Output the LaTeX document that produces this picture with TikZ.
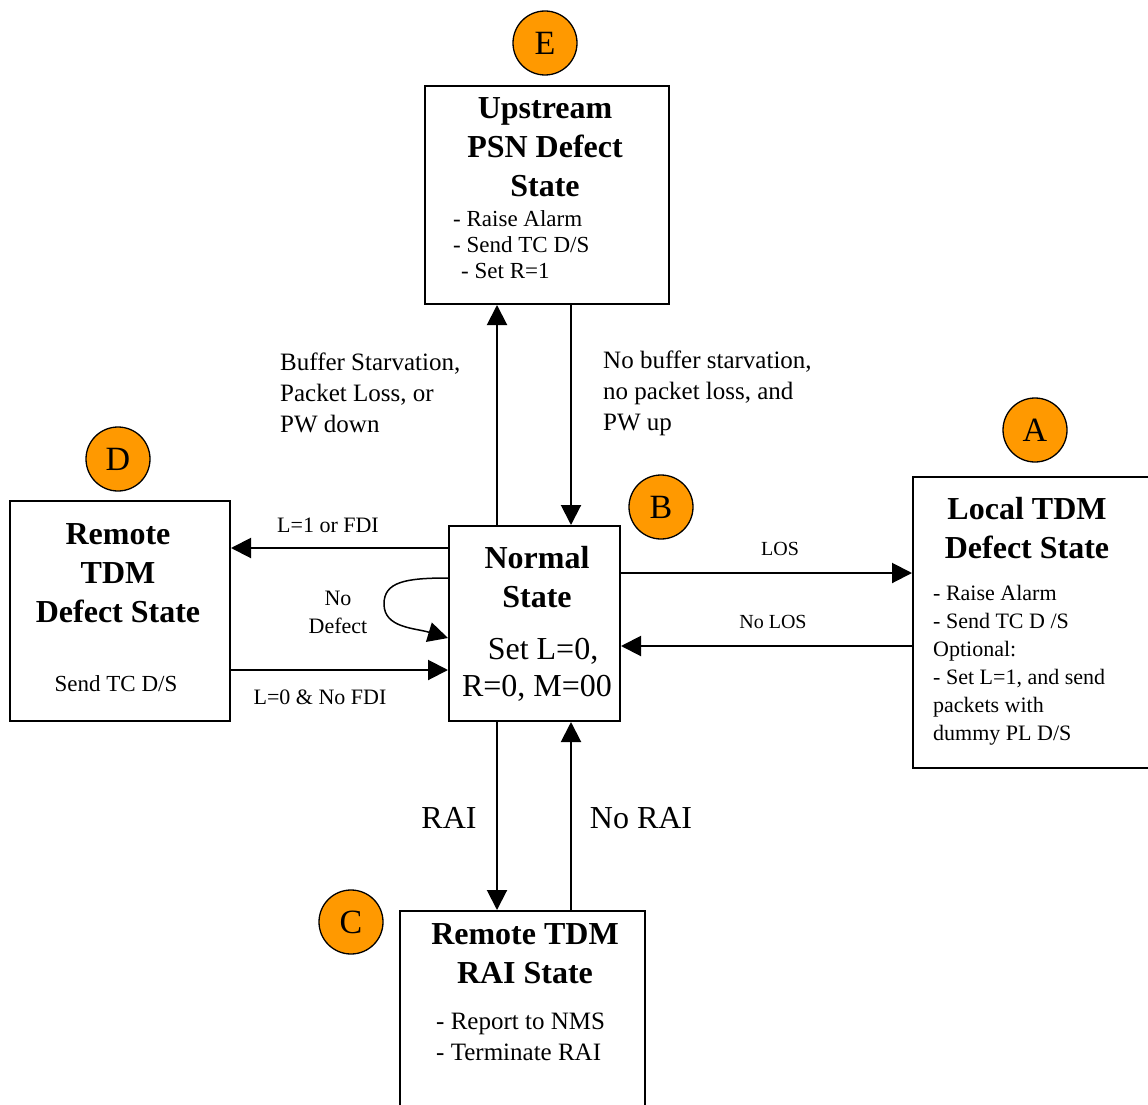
\documentclass[tikz,border=0pt]{standalone}
\usepackage{fontspec}
\setmainfont{Liberation Serif}
\usetikzlibrary{arrows.meta,positioning}
\definecolor{badgeorange}{RGB}{255,153,0}
\newcommand{\titlefont}{\fontsize{32}{39}\selectfont\bfseries}
\newcommand{\listfont}{\fontsize{23}{26}\selectfont}
\newcommand{\labfont}{\fontsize{22}{28}\selectfont}

\begin{document}
\begin{tikzpicture}[x=1pt,y=-1pt]
\tikzstyle{statebox}=[draw, line width=2pt, inner sep=0pt]
\tikzstyle{badge}=[circle, draw, line width=1.3pt, fill=badgeorange, minimum size=64pt, inner sep=0pt, font=\fontsize{34}{34}\selectfont]
\tikzstyle{trans}=[line width=2pt, -{Triangle[length=20pt,width=20pt]}]
\tikzstyle{every node}+=[inner sep=0pt]
\useasboundingbox (0,0) rectangle (1148,1105);
\clip (0,0) rectangle (1148,1105);
% states
\node [statebox, minimum width=244pt, minimum height=218pt] (psn) at (547,195) {};
\node [statebox, minimum width=220pt, minimum height=220pt] (rtdm) at (120,611) {};
\node [statebox, minimum width=171pt, minimum height=195pt] (normal) at (534.5,623.5) {};
\node [statebox, minimum width=267pt, minimum height=291pt] (ltdm) at (1046.5,622.5) {};
\node [statebox, minimum width=245pt, minimum height=229pt] (rai) at (522.5,1025.5) {};
% badges
\node [badge] (badgeE) at (545,43) {E};
\node [badge] (badgeD) at (118,459) {D};
\node [badge] (badgeB) at (661,507) {B};
\node [badge] (badgeA) at (1035,430) {A};
\node [badge] (badgeC) at (351,922) {C};
% texts in the states
\node [font=\titlefont, align=center] (psntitle) at (545,147) {Upstream\\PSN Defect\\State};
\node [font=\listfont, align=left, anchor=west] (psnlist) at (453,245) {- Raise Alarm\\- Send TC D/S\\\hspace*{8pt}- Set R=1};
\node [font=\titlefont, align=center] (rtdmtitle) at (118,573) {Remote\\TDM\\Defect State};
\node [font=\listfont] (rtdmlist) at (116,684) {Send TC D/S};
\node [font=\titlefont, align=center] (normaltitle) at (537,577) {Normal\\State};
\node [font=\fontsize{32}{37}\selectfont, align=center] (normallist) at (537,670) {\hspace*{12pt}Set L=0,\\R=0, M=00};
\node [font=\titlefont, align=center] (ltdmtitle) at (1027,528) {Local TDM\\Defect State};
\node [font=\fontsize{22}{28}\selectfont, align=left, anchor=west] (ltdmlist) at (933,665) {- Raise Alarm\\- Send TC D /S\\Optional:\\- Set L=1, and send\\packets with\\dummy PL D/S};
\node [font=\titlefont, align=center] (raititle) at (525,954) {Remote TDM\\RAI State};
\node [font=\fontsize{25}{31}\selectfont, align=left, anchor=west] (railist) at (436,1037) {- Report to NMS\\- Terminate RAI};
% lanes of the connectors
\coordinate (xup) at (497,0);
\coordinate (xdown) at (571,0);
\coordinate (yfdi) at (0,548);
\coordinate (ynofdi) at (0,670);
\coordinate (ylos) at (0,573);
\coordinate (ynolos) at (0,646);
\coordinate (yloopa) at (0,578);
\coordinate (yloopb) at (0,638);
\coordinate (loopturn) at (384,604);
% transitions
\draw [trans] (normal.north -| xup) -- (psn.south -| xup);
\draw [trans] (psn.south -| xdown) -- (normal.north -| xdown);
\draw [trans] (normal.west |- yfdi) -- (rtdm.east |- yfdi);
\draw [trans] (rtdm.east |- ynofdi) -- (normal.west |- ynofdi);
\draw [trans] (normal.east |- ylos) -- (ltdm.west |- ylos);
\draw [trans] (ltdm.west |- ynolos) -- (normal.east |- ynolos);
\draw [trans] (normal.south -| xup) -- (rai.north -| xup);
\draw [trans] (rai.north -| xdown) -- (normal.south -| xdown);
\draw [trans, line width=1.5pt] (normal.west |- yloopa) .. controls (405,578) and (384,582) .. (loopturn) .. controls (384,628) and (415,628) .. (normal.west |- yloopb);
% transition labels
\node [font=\fontsize{25}{31}\selectfont, align=left, anchor=west] (lstarve) at (280,393) {Buffer Starvation,\\Packet Loss, or\\PW down};
\node [font=\fontsize{25}{31}\selectfont, align=left, anchor=west] (lnostarve) at (603,393) {No buffer starvation,\\no packet loss, and\\PW up};
\node [font=\labfont] (lfdi) at (328,525) {L=1 or FDI};
\node [font=\labfont] (lnofdi) at (320,697) {L=0 \& No FDI};
\node [font=\labfont, align=center] (lnodefect) at (338,612) {No\\Defect};
\node [font=\fontsize{20}{24}\selectfont] (llos) at (780,549) {LOS};
\node [font=\fontsize{20}{24}\selectfont] (lnolos) at (773,622) {No LOS};
\node [font=\fontsize{32}{38}\selectfont] (lrai) at (449,818) {RAI};
\node [font=\fontsize{32}{38}\selectfont] (lnorai) at (641,818) {No RAI};
\end{tikzpicture}
\end{document}
